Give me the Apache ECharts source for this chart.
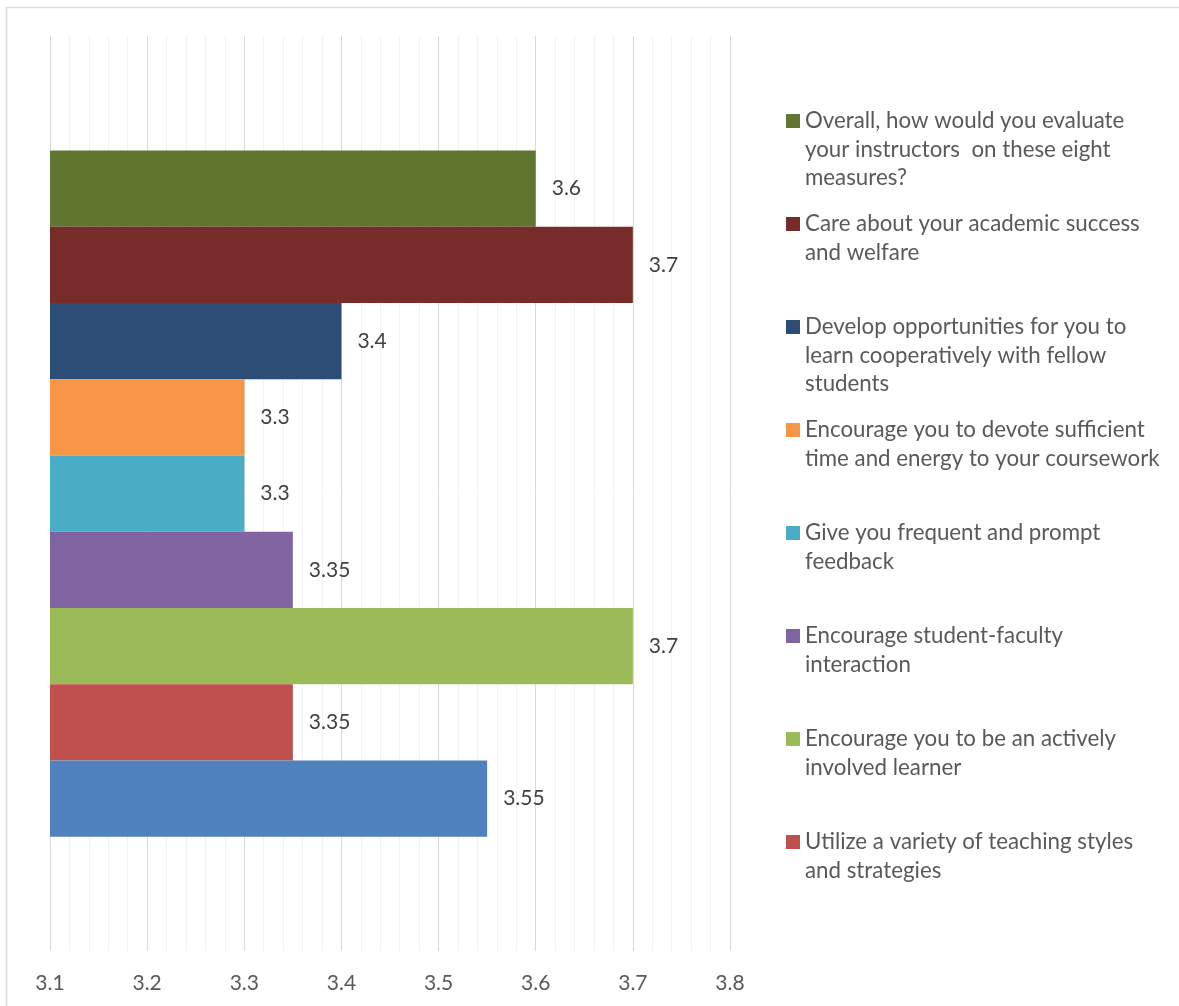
<!DOCTYPE html>
<html>
<head>
<meta charset="utf-8">
<script src="https://cdn.jsdelivr.net/npm/echarts@6/dist/echarts.min.js"></script>
<style>
  html, body { margin: 0; padding: 0; background: #ffffff; }
  #chart { width: 1179px; height: 1006px; }
</style>
</head>
<body>
<div id="chart"></div>
<script>
// Survey ratings: one bar per measure, listed top bar first
const measureLines = [
  ['Overall, how would you evaluate', 'your instructors  on these eight', 'measures?'],
  ['Care about your academic success', 'and welfare'],
  ['Develop opportunities for you to', 'learn cooperatively with fellow', 'students'],
  ['Encourage you to devote sufficient', 'time and energy to your coursework'],
  ['Give you frequent and prompt', 'feedback'],
  ['Encourage student-faculty', 'interaction'],
  ['Encourage you to be an actively', 'involved learner'],
  ['Utilize a variety of teaching styles', 'and strategies'],
  ['Series 1']
];
const ratings = [3.6, 3.7, 3.4, 3.3, 3.3, 3.35, 3.7, 3.35, 3.55];
const barColors = ['#5F7530', '#772C2A', '#2C4D75', '#F79646', '#4BACC6', '#8064A2', '#9BBB59', '#C0504D', '#4F81BD'];
const axisTicks = [3.1, 3.2, 3.3, 3.4, 3.5, 3.6, 3.7, 3.8];
const category = ['Rating'];

const FONT = 'Lato';
const names = measureLines.map(l => l.join(' '));
// the legend lists the first eight measures only
const legendNames = names.slice(0, 8);

const LINE_H = 28.5;
const ITEM_H = LINE_H * 3;
// square swatch sitting beside the first text line of each entry
const swatch = 'path://M0,0L14,0M0,7.25L14,7.25L14,21.25L0,21.25Z M0,' + ITEM_H + 'L14,' + ITEM_H;

const chart = echarts.init(document.getElementById('chart'), null, { renderer: 'canvas' });

chart.setOption({
  animation: false,
  backgroundColor: '#ffffff',
  grid: { left: 50, right: 449, top: 36, bottom: 55, containLabel: false },
  xAxis: {
    type: 'value',
    min: axisTicks[0],
    max: axisTicks[axisTicks.length - 1],
    interval: 0.1,
    axisLine: { show: false },
    axisTick: { show: false },
    minorTick: { show: false, splitNumber: 5 },
    splitLine: { show: true, lineStyle: { color: '#D9D9D9', width: 1 } },
    minorSplitLine: { show: true, lineStyle: { color: '#F2F2F2', width: 1 } },
    axisLabel: {
      color: '#595959', fontFamily: FONT, fontSize: 21, margin: 22,
      formatter: v => String(Math.round(v * 10) / 10)
    }
  },
  yAxis: {
    type: 'category',
    data: category,
    axisLine: { show: false },
    axisTick: { show: false },
    axisLabel: { show: false },
    splitLine: { show: false }
  },
  legend: {
    orient: 'vertical',
    left: 786,
    top: 106.75,
    padding: 0,
    data: legendNames,
    icon: swatch,
    itemWidth: 14,
    itemHeight: ITEM_H,
    itemGap: 103 - ITEM_H,
    selectedMode: false,
    textStyle: { color: '#595959', fontFamily: FONT, fontSize: 22.3, lineHeight: LINE_H },
    formatter: name => {
      const lines = measureLines[names.indexOf(name)].slice();
      while (lines.length < 3) lines.push(' ');
      return lines.join('\n');
    }
  },
  graphic: [{
    type: 'polyline',
    shape: { points: [[6.5, 1006], [6.5, 7.5], [1179, 7.5]] },
    style: { stroke: '#D9D9D9', lineWidth: 1.5, fill: null },
    silent: true
  }],
  series: names.map((n, i) => ({
    type: 'bar',
    name: n,
    data: [ratings[i]],
    barGap: '0%',
    barCategoryGap: '25%',
    itemStyle: { color: barColors[i] },
    label: {
      show: true, position: 'right', distance: 16,
      color: '#404040', fontFamily: FONT, fontSize: 21
    }
  }))
});
</script>
</body>
</html>
